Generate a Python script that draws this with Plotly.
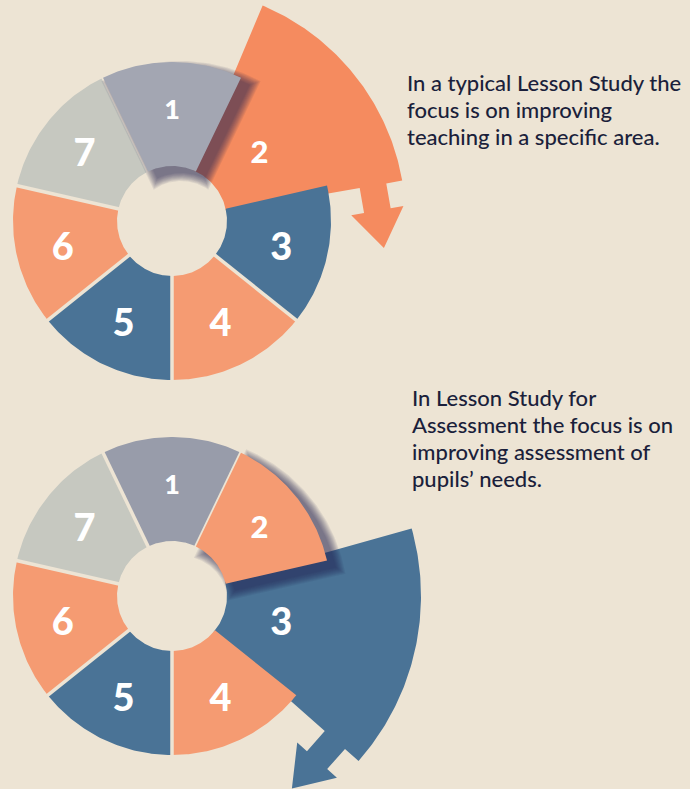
import numpy as np
import plotly.graph_objects as go

# ---------------- data ----------------
segments = ["1", "2", "3", "4", "5", "6", "7"]
top_colors = ["#A3A6B2", "#F58B5F", "#4A7396", "#F59B72", "#4A7396", "#F59B72", "#C6C8C0"]
bottom_colors = ["#989CAA", "#F59B72", "#4A7396", "#F59B72", "#4A7396", "#F59B72", "#C6C8C0"]
top_reach = [1.0, 1.47, 1.0, 1.0, 1.0, 1.0, 1.0]      # relative outer radius of each step
bottom_reach = [1.0, 1.0, 1.566, 1.0, 1.0, 1.0, 1.0]
top_raised = [True, False, False, False, False, False, False]   # step lifted with a drop shadow
bottom_raised = [False, True, False, False, False, False, False]
label_sizes = [27, 31, 38, 38, 38, 38, 38]
top_caption = ["In a typical Lesson Study the", "focus is on improving", "teaching in a specific area."]
bottom_caption = ["In Lesson Study for", "Assessment the focus is on", "improving assessment of", "pupils’ needs."]

# ---------------- style / layout constants ----------------
W, H = 690, 789
BG = "#EDE4D4"
TEXT = "#1B1F3B"
R_OUT, R_IN = 159, 55
STEP = 360 / len(segments)
EXTEND = 2.9          # extra angle (deg) of an enlarged step
LABEL_R = 112
CENTERS = [(172, 221), (172, 596)]
CAPTION_POS = [(405, 67), (410, 382)]
LINE_GAP = 27


def pxy(cx, cy, r, a):
    a = np.radians(a)
    return cx + r * np.cos(a), cy - r * np.sin(a)


def wedge(cx, cy, r0, r1, a0, a1, grow=0.0, n=70):
    ao = np.linspace(a0 - np.degrees(grow / (r1 + grow)), a1 + np.degrees(grow / (r1 + grow)), n)
    ri = max(r0 - grow, 1)
    ai = np.linspace(a1 + np.degrees(grow / ri), a0 - np.degrees(grow / ri), n)
    xo, yo = pxy(cx, cy, r1 + grow, ao)
    xi, yi = pxy(cx, cy, ri, ai)
    x = np.concatenate([xo, xi, xo[:1]])
    y = np.concatenate([yo, yi, yo[:1]])
    return x, y


def arrow_wedge(cx, cy, r0, r1, a0, a1, n=90):
    ar = np.radians(a0)
    u = np.array([np.cos(ar), -np.sin(ar)])      # radial direction (screen)
    t = np.array([np.sin(ar), np.cos(ar)])       # clockwise tangent (screen)
    b = np.array(pxy(cx, cy, 0.873 * r1, a0))
    half, head = 13.5, 26.5
    ls, lh = 0.108 * r1, 38
    pts = [
        pxy(cx, cy, r0, a0),
        b - half * u,
        b - half * u + ls * t,
        b - head * u + ls * t,
        b + (ls + lh) * t,
        b + head * u + ls * t,
        b + half * u + ls * t,
        b + half * u,
    ]
    xs = [p[0] for p in pts]
    ys = [p[1] for p in pts]
    ao = np.linspace(a0, a1, n)
    xo, yo = pxy(cx, cy, r1, ao)
    ai = np.linspace(a1, a0, 30)
    xi, yi = pxy(cx, cy, r0, ai)
    x = np.concatenate([xs, xo, xi])
    y = np.concatenate([ys, yo, yi])
    return x, y


fig = go.Figure()


def poly(x, y, color):
    fig.add_trace(go.Scatter(x=x, y=y, mode="lines", fill="toself", fillcolor=color,
                             line=dict(width=0, color="rgba(0,0,0,0)"), hoverinfo="skip", showlegend=False))


def draw_wheel(center, colors, reach, raised):
    cx, cy = center
    nseg = len(segments)
    spans = []
    for i in range(nseg):
        mid = 90 - i * STEP
        spans.append((mid - STEP / 2, mid + STEP / 2))
    # enlarged step (behind the others)
    for i in range(nseg):
        if reach[i] > 1:
            a0, a1 = spans[i]
            x, y = arrow_wedge(cx, cy, R_IN, R_OUT * reach[i], a0 - EXTEND, a1 + EXTEND)
            poly(x, y, colors[i])
    # normal steps
    for i in range(nseg):
        if reach[i] == 1 and not raised[i]:
            a0, a1 = spans[i]
            x, y = wedge(cx, cy, R_IN, R_OUT, a0, a1)
            poly(x, y, colors[i])
    # separating gaps between normal neighbours
    for i in range(nseg):
        j = (i + 1) % nseg
        if reach[i] == 1 and reach[j] == 1:
            a = spans[i][0]
            x, y = pxy(cx, cy, np.array([R_IN - 3, R_OUT + 3]), a)
            fig.add_trace(go.Scatter(x=x, y=y, mode="lines", line=dict(color=BG, width=3.5),
                                     hoverinfo="skip", showlegend=False))
    # raised step with soft drop shadow
    for i in range(nseg):
        if raised[i]:
            a0, a1 = spans[i]
            for g in np.arange(8, -0.1, -1.0):
                x, y = wedge(cx + 9, cy + 7, R_IN, R_OUT, a0, a1, grow=g)
                poly(x, y, "rgba(34,38,79,0.085)")
            x, y = wedge(cx, cy, R_IN, R_OUT, a0, a1)
            poly(x, y, colors[i])
    # labels
    mids = np.array([90 - i * STEP for i in range(nseg)])
    lx, ly = pxy(cx, cy, LABEL_R, mids)
    ly = ly + 0.13 * np.array(label_sizes)
    fig.add_trace(go.Scatter(x=lx, y=ly, mode="text", text=segments,
                             textfont=dict(family="Lato", size=label_sizes, color="white", weight=900),
                             hoverinfo="skip", showlegend=False))


draw_wheel(CENTERS[0], top_colors, top_reach, top_raised)
draw_wheel(CENTERS[1], bottom_colors, bottom_reach, bottom_raised)

for (x0, y0), lines in zip(CAPTION_POS, [top_caption, bottom_caption]):
    for k, line in enumerate(lines):
        fig.add_annotation(x=x0, y=y0 + k * LINE_GAP, xref="x", yref="y", xanchor="left", yanchor="top",
                           align="left", text=line, showarrow=False,
                           font=dict(family="Lato", size=22, color=TEXT, weight=500))

fig.update_layout(
    width=W, height=H, margin=dict(l=0, r=0, t=0, b=0),
    paper_bgcolor=BG, plot_bgcolor=BG,
    xaxis=dict(range=[0, W], visible=False, fixedrange=True),
    yaxis=dict(range=[H, 0], visible=False, fixedrange=True),
)
fig.write_html("out.html", config={"displayModeBar": False},
               post_script="document.body.style.margin='0';document.body.style.background='%s';" % BG)
